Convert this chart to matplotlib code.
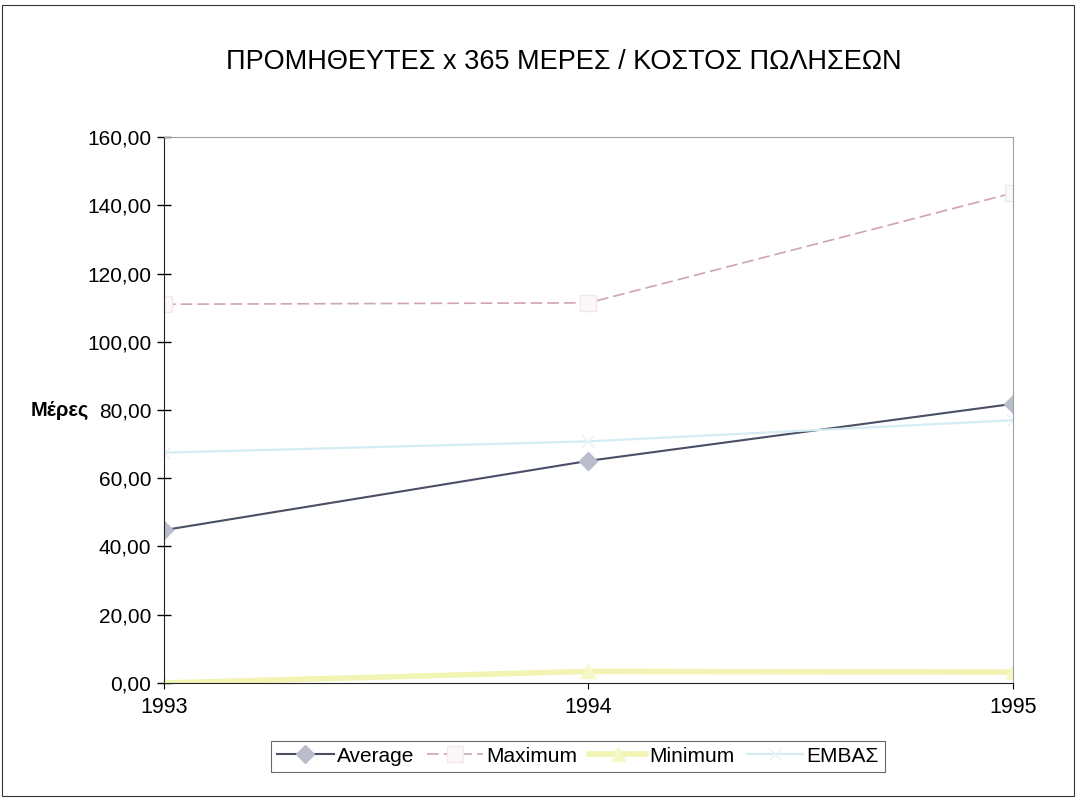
import matplotlib
matplotlib.use("Agg")
import matplotlib.pyplot as plt
from matplotlib.patches import Rectangle

years = ["1993", "1994", "1995"]
average = [44.8, 65.1, 81.8]
maximum = [111.0, 111.4, 143.6]
minimum = [0.0, 3.4, 3.2]
embas = [67.5, 70.8, 77.0]

plt.rcParams['font.family'] = ['Liberation Sans', 'DejaVu Sans']

fig = plt.figure(figsize=(10.78, 7.99), dpi=100)
ax = fig.add_axes([0.1521, 0.1452, 0.7876, 0.6833])

x = range(len(years))
ax.plot(x, average, color='#4a4f66', lw=1.5, marker='D', ms=9,
        mfc='#b8bccb', mec='#b8bccb', label='Average')
ax.plot(x, maximum, color='#cfa4b0', lw=1.2, ls='--', dashes=(7, 3), marker='s', ms=12,
        mfc='#fcf7f8', mec='#f2e8eb', label='Maximum')
ax.plot(x, minimum, color='#f2f4b4', lw=4, marker='^', ms=10,
        mfc='#f6f8c8', mec='#f6f8c8', label='Minimum')
ax.plot(x, embas, color='#d4ecf2', lw=1.6, marker='x', ms=9,
        mec='#e4f2f6', label='ΕΜΒΑΣ')

ax.set_xlim(0, 2)
ax.set_ylim(0, 160)
ax.set_xticks(list(x))
ax.set_xticklabels(years, fontsize=15.5)
ax.set_yticks(range(0, 161, 20))
ax.set_yticklabels(["%d,00" % v for v in range(0, 161, 20)], fontsize=15)
ax.tick_params(axis='y', direction='inout', length=10, width=1, pad=4)
ax.tick_params(axis='x', direction='out', length=4, width=0.8, pad=6)

ax.spines['left'].set_color('#222222')
ax.spines['bottom'].set_color('#222222')
ax.spines['top'].set_color('#a0a0a0')
ax.spines['top'].set_linestyle((0, (2, 1)))
ax.spines['right'].set_color('#a0a0a0')
ax.spines['right'].set_linestyle((0, (2, 1)))

fig.text(0.523, 0.922, "ΠΡΟΜΗΘΕΥΤΕΣ x 365 ΜΕΡΕΣ / ΚΟΣΤΟΣ ΠΩΛΗΣΕΩΝ",
         ha='center', va='center', fontsize=19.5)
fig.text(0.055, 0.486, "Μέρες", ha='center', va='center', fontsize=14.5, fontweight='bold')

leg = fig.legend(loc='center', bbox_to_anchor=(0.536, 0.0535), ncol=4, fontsize=15,
                 frameon=True, fancybox=False, edgecolor='#444444',
                 handlelength=2.7, columnspacing=0.6, handletextpad=0.15,
                 borderpad=0.3, borderaxespad=0)
leg.get_frame().set_linewidth(0.8)

# outer chart border
fig.patches.append(Rectangle((0.002, 0.004), 0.994, 0.99, transform=fig.transFigure,
                             fill=False, edgecolor='#333333', lw=0.8))

fig.savefig("out.png", dpi=100)
